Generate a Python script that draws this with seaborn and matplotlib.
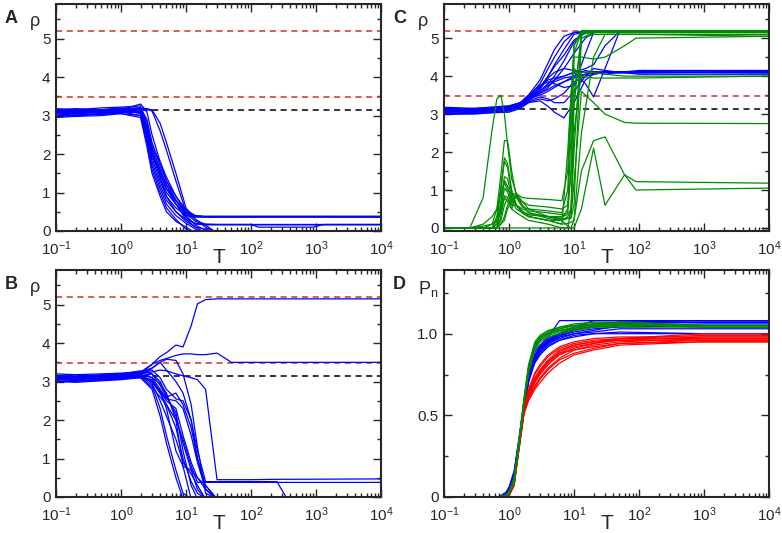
import matplotlib
matplotlib.use("Agg")
import matplotlib.pyplot as plt
from matplotlib.ticker import LogLocator, MultipleLocator, FixedLocator, NullFormatter
import seaborn as sns
import pandas as pd

# reference levels (dashed lines)
RED_LEVELS = [5.2, 3.47]
BLACK_LEVEL = 3.14

# ---- panel A: rho vs T, blue runs ----
T_A = [0.1, 0.2, 0.5, 1, 2, 2.5, 3, 4, 5, 7, 10, 14, 20, 30, 100, 130, 900, 1300, 10000]
rho_A = [
    [3.15, 3.18, 3.15, 3.18, 3.20, 2.90, 2.30, 1.70, 1.30, 0.90, 0.55, 0.40, 0.38, 0.38, 0.38, 0.38, 0.38, 0.38, 0.38],
    [3.05, 3.08, 3.10, 3.12, 3.15, 2.70, 2.10, 1.50, 1.10, 0.80, 0.50, 0.39, 0.37, 0.37, 0.37, 0.37, 0.37, 0.37, 0.37],
    [3.00, 2.98, 3.05, 3.08, 3.10, 2.60, 1.90, 1.30, 0.90, 0.60, 0.40, 0.36, 0.36, 0.36, 0.36, 0.36, 0.36, 0.36, 0.36],
    [3.12, 3.10, 3.12, 3.15, 3.30, 3.10, 2.50, 1.80, 1.30, 0.80, 0.45, 0.25, 0.18, 0.17, 0.17, 0.17, 0.17, 0.17, 0.17],
    [3.08, 3.05, 3.10, 3.12, 3.10, 2.50, 1.80, 1.20, 0.80, 0.50, 0.30, 0.20, 0.17, 0.17, 0.17, 0.10, 0.10, 0.17, 0.17],
    [3.10, 3.12, 3.10, 3.15, 3.05, 2.40, 1.70, 1.10, 0.70, 0.40, 0.20, 0.05, -0.05],
    [3.05, 3.00, 3.05, 3.10, 3.00, 2.30, 1.60, 1.00, 0.60, 0.30, 0.05, -0.05],
    [2.95, 2.98, 3.00, 3.05, 2.95, 2.20, 1.50, 0.90, 0.50, 0.25, 0.10, -0.05],
    [3.15, 3.12, 3.15, 3.20, 3.15, 2.80, 2.20, 1.60, 1.20, 0.80, 0.40, 0.15, 0.02, -0.05],
    [3.12, 3.14, 3.15, 3.18, 3.20, 3.18, 3.15, 2.80, 2.30, 1.50, 0.60, 0.30, 0.10, -0.05],
    [3.10, 3.12, 3.15, 3.15, 3.18, 3.16, 3.12, 2.60, 2.10, 1.30, 0.50, 0.38, 0.37, 0.37, 0.37, 0.37, 0.37, 0.37, 0.37],
    [3.00, 3.02, 3.05, 3.10, 3.08, 2.60, 2.20, 1.80, 1.40, 0.90, 0.50, 0.30, 0.15, -0.05],
    [3.18, 3.15, 3.20, 3.22, 3.25, 2.80, 2.00, 1.40, 1.00, 0.70, 0.45, 0.38, 0.38, 0.38, 0.38, 0.38, 0.38, 0.38, 0.38],
    [3.05, 3.08, 3.10, 3.05, 3.00, 2.50, 2.00, 1.60, 1.20, 0.70, 0.30, 0.10, -0.05],
    [3.10, 3.05, 3.08, 3.12, 3.10, 2.70, 2.10, 1.40, 0.90, 0.50, 0.25, 0.10, 0.05, -0.05],
    [3.00, 3.05, 3.02, 3.08, 3.12, 2.60, 2.00, 1.50, 1.10, 0.70, 0.35, 0.18, 0.16, 0.16, 0.16, 0.16, 0.16, 0.16, 0.16],
]

# ---- panel B ----
T_B = [0.1, 0.2, 0.5, 1, 2, 3, 4, 5, 7, 9, 12, 15, 20, 30, 50, 100, 250, 360, 10000]
rho_B = [
    [3.10, 3.12, 3.10, 3.15, 3.20, 3.45, 3.65, 3.75, 3.95, 3.90, 4.45, 5.02, 5.13, 5.15, 5.15, 5.15, 5.15, 5.15, 5.15],
    [3.05, 3.08, 3.12, 3.15, 3.25, 3.45, 3.55, 3.60, 3.68, 3.72, 3.72, 3.70, 3.70, 3.74, 3.50, 3.50, 3.50, 3.50, 3.50],
    [3.10, 3.12, 3.15, 3.18, 3.20, 3.25, 3.30, 3.28, 3.20, 3.15, 3.10, 3.05, 2.80, 0.45, 0.45, 0.45, 0.46, 0.46, 0.47],
    [3.00, 3.02, 3.05, 3.10, 3.15, 2.90, 2.30, 1.60, 0.70, 0.10, -0.05],
    [3.12, 3.10, 3.15, 3.12, 3.10, 2.80, 2.10, 1.40, 0.50, -0.05],
    [3.15, 3.18, 3.20, 3.22, 3.25, 3.10, 2.80, 2.55, 2.50, 2.30, 1.60, 0.90, 0.20, -0.05],
    [3.08, 3.05, 3.08, 3.10, 3.20, 3.30, 3.10, 2.80, 2.55, 2.50, 2.00, 1.20, 0.40, 0.40, 0.40, 0.40, 0.40, -0.05],
    [3.05, 3.10, 3.12, 3.08, 3.15, 3.00, 2.70, 2.40, 2.00, 1.50, 0.80, 0.38, 0.38, 0.38, 0.38, 0.38, 0.38, 0.38, 0.38],
    [3.20, 3.18, 3.15, 3.20, 3.25, 3.35, 3.50, 3.30, 3.00, 2.70, 2.00, 1.00, 0.30, -0.05],
    [3.10, 3.08, 3.12, 3.15, 3.10, 2.85, 2.60, 2.40, 1.80, 1.00, 0.40, 0.10, -0.05],
    [3.00, 2.98, 3.02, 3.05, 3.10, 3.00, 2.75, 2.50, 2.30, 1.60, 0.90, 0.50, 0.20, -0.05],
    [3.15, 3.12, 3.18, 3.20, 3.28, 3.20, 2.90, 2.60, 2.20, 1.20, 0.30, -0.05],
    [3.05, 3.08, 3.10, 3.12, 3.18, 3.35, 3.50, 3.58, 3.55, 3.20, 2.40, 1.30, 0.10, -0.05],
    [3.10, 3.12, 3.08, 3.15, 3.22, 2.95, 2.50, 2.10, 1.50, 0.90, 0.60, 0.30, -0.05],
    [3.12, 3.15, 3.15, 3.18, 3.20, 3.00, 2.70, 2.60, 2.70, 2.40, 1.80, 1.00, 0.20, -0.05],
    [3.00, 3.03, 3.05, 3.08, 3.12, 3.05, 2.75, 2.30, 1.20, 0.80, 0.70, 0.50, 0.30, -0.05],
    [3.08, 3.10, 3.06, 3.12, 3.18, 3.10, 2.95, 2.70, 2.00, 0.80, -0.05],
    [3.02, 3.00, 3.04, 3.06, 3.14, 3.20, 3.00, 2.65, 2.10, 1.40, 0.70, 0.20, -0.05],
]

# ---- panel C: blue runs ----
T_C_blue = [0.1, 0.3, 1, 1.5, 2, 3, 4, 5, 7, 10, 15, 20, 30, 50, 100, 10000]
rho_C_blue = [
    [3.05, 3.08, 3.15, 3.25, 3.45, 3.80, 4.20, 4.50, 4.90, 5.15, 5.17, 5.17, 5.17, 5.17, 5.17, 5.17],
    [3.10, 3.12, 3.20, 3.30, 3.50, 3.90, 4.35, 4.70, 5.05, 5.15, 5.17, 5.17, 5.17, 5.17, 5.17, 5.17],
    [3.00, 3.02, 3.10, 3.20, 3.40, 3.70, 4.00, 4.30, 4.70, 5.10, 5.17, 5.17, 5.17, 5.17, 5.17, 5.17],
    [3.15, 3.10, 3.18, 3.28, 3.45, 3.60, 3.80, 4.00, 4.40, 4.90, 5.15, 5.17, 5.17, 5.17, 5.17, 5.17],
    [3.08, 3.05, 3.12, 3.22, 3.40, 3.55, 3.70, 3.90, 4.20, 4.60, 5.00, 5.15, 5.17, 5.17, 5.17, 5.17],
    [3.05, 3.08, 3.15, 3.22, 3.35, 3.60, 3.75, 3.85, 3.95, 4.00, 4.05, 4.10, 4.12, 4.10, 4.12, 4.10],
    [3.12, 3.10, 3.18, 3.25, 3.40, 3.50, 3.60, 3.70, 3.85, 3.95, 4.05, 4.08, 4.10, 4.12, 4.08, 4.12],
    [3.00, 3.02, 3.05, 3.15, 3.30, 3.35, 3.20, 3.05, 2.90, 3.30, 3.90, 4.05, 4.10, 4.10, 4.10, 4.08],
    [3.10, 3.12, 3.15, 3.20, 3.35, 3.45, 3.40, 3.30, 3.30, 3.60, 4.00, 4.20, 4.15, 4.10, 4.05, 4.05],
    [3.05, 3.08, 3.15, 3.25, 3.40, 3.60, 3.80, 3.90, 4.00, 4.10, 3.80, 3.45, 4.20, 5.17, 5.17, 5.17],
    [3.15, 3.12, 3.20, 3.30, 3.50, 3.75, 3.90, 3.95, 4.00, 4.10, 4.20, 4.30, 4.80, 5.17, 5.17, 5.17],
    [3.02, 3.05, 3.12, 3.20, 3.38, 3.55, 3.65, 3.75, 3.85, 4.00, 4.15, 4.10, 4.05, 4.10, 4.15, 4.15],
    [3.08, 3.10, 3.16, 3.26, 3.42, 3.65, 3.95, 4.10, 4.20, 4.15, 4.10, 4.12, 4.10, 4.08, 4.10, 4.10],
    [3.12, 3.15, 3.20, 3.30, 3.50, 3.75, 3.85, 3.80, 3.70, 3.75, 4.60, 5.15, 5.17, 5.17, 5.17, 5.17],
    [3.00, 3.00, 3.08, 3.18, 3.32, 3.40, 3.35, 3.40, 3.55, 3.85, 4.00, 4.05, 4.10, 4.12, 4.10, 4.12],
    [3.18, 3.15, 3.22, 3.30, 3.45, 3.70, 4.00, 4.25, 4.55, 4.95, 5.15, 5.17, 5.17, 5.17, 5.17, 5.17],
]

# ---- panel C: green runs ----
T_C_green = [0.1, 0.25, 0.4, 0.55, 0.65, 0.75, 0.85, 0.95, 1.1, 1.3, 1.6, 2, 4, 6.5, 8, 9, 10, 13, 20, 30, 60, 90, 10000]
rho_C_green = [
    [0, 0, 0.80, 2.60, 3.40, 3.50, 3.00, 2.20, 1.30, 0.90, 0.80, 0.78, 0.75, 0.72, 1.50, 3.50, 4.80, 5.20, 5.20, 5.20, 5.20, 5.20, 5.20],
    [0, 0, 0, 0.10, 0.50, 1.40, 2.30, 2.30, 1.50, 0.80, 0.55, 0.50, 0.45, 0.40, 1.00, 3.00, 4.60, 5.18, 5.18, 5.18, 5.18, 5.18, 5.18],
    [0, 0, 0, 0, 0.30, 1.10, 1.85, 1.70, 1.00, 0.60, 0.40, 0.35, 0.30, 0.30, 0.35, 0.50, 2.50, 4.10, 4.10, 4.05, 4.00, 4.00, 4.00],
    [0, 0, 0, 0, 0.20, 1.00, 1.75, 1.60, 0.90, 0.90, 0.60, 0.40, 0.25, 0.20, 0.30, 0.40, 3.20, 5.15, 5.15, 5.15, 5.15, 5.15, 5.15],
    [0, 0, 0, 0, 0.10, 0.70, 1.35, 1.30, 0.80, 0.60, 0.40, 0.30, 0.20, 0.20, 0.25, 0.30, 1.20, 3.60, 3.30, 3.00, 2.78, 2.76, 2.75],
    [0, 0, 0, 0, 0.10, 0.60, 1.25, 1.10, 0.70, 0.85, 0.60, 0.40, 0.30, 0.25, 0.25, 0.25, 0.60, 5.00, 5.15, 5.15, 5.15, 5.15, 5.15],
    [0, 0, 0, 0, 0, 0.50, 1.05, 0.95, 0.60, 0.60, 0.40, 0.30, 0.20, 0.10, 0.12, 0.15, 0.20, 1.50, 2.30, 2.40, 1.40, 1.22, 1.18],
    [0, 0, 0, 0, 0, 0.30, 0.85, 0.80, 0.50, 0.90, 0.70, 0.50, 0.30, 0.20, 0.05, 0, 0, 0.50, 2.10, 0.60, 1.40, 1.00, 1.05],
    [0, 0, 0, 0, 0, 0, 0, 0, 0, 0, 0, 0, 0, 0, 0, 0.50, 2.00, 5.10, 5.15, 5.15, 5.15, 5.15, 5.15],
    [0, 0, 0, 0, 0, 0.10, 0.30, 0.60, 0.80, 0.60, 0.50, 0.45, 0.40, 0.35, 0.40, 1.50, 4.50, 4.50, 4.45, 4.50, 4.80, 5.00, 5.05],
    [0, 0, 0, 0, 0, 0.10, 0.20, 0.50, 0.70, 0.50, 0.40, 0.30, 0.20, 0.10, 2.00, 3.50, 4.20, 4.00, 3.95, 3.95, 3.95, 3.95, 4.00],
    [0, 0, 0.10, 0.30, 0.50, 0.90, 1.20, 1.00, 0.90, 0.60, 0.45, 0.35, 0.30, 0.25, 0.50, 2.50, 4.80, 5.20, 5.20, 5.20, 5.20, 5.20, 5.20],
    [0, 0, 0, 0, 0, 0.20, 0.60, 0.80, 0.90, 0.80, 0.70, 0.60, 0.55, 0.50, 0.60, 1.50, 3.50, 5.00, 5.10, 5.10, 5.10, 5.10, 5.05],
    [0, 0, 0.05, 0.10, 0.20, 0.40, 0.80, 0.70, 0.50, 0.40, 0.30, 0.20, 0.10, 0, 0, 0, 0.20, 2.50, 4.50, 5.10, 5.10, 5.10, 5.10],
]

# ---- panel D: P_n vs T ----
T_D = [0.7, 0.9, 1.0, 1.2, 1.4, 1.7, 2.0, 2.5, 3, 4, 6, 10, 20, 50, 1000, 10000]
Pn_D_blue = [
    [0, 0.01, 0.03, 0.12, 0.30, 0.55, 0.72, 0.85, 0.90, 0.94, 0.97, 1.00, 1.02, 1.05, 1.06, 1.06],
    [0, 0.02, 0.05, 0.15, 0.33, 0.57, 0.74, 0.87, 0.92, 0.96, 1.00, 1.02, 1.04, 1.07, 1.08, 1.08],
    [0, 0.01, 0.02, 0.10, 0.28, 0.53, 0.70, 0.83, 0.88, 0.93, 0.96, 0.99, 1.00, 1.01, 1.00, 1.00],
    [0, 0.03, 0.06, 0.16, 0.34, 0.58, 0.76, 0.89, 0.93, 0.98, 1.08, 1.08, 1.08, 1.08, 1.08, 1.08],
    [0, 0.01, 0.03, 0.11, 0.29, 0.54, 0.71, 0.84, 0.89, 0.94, 0.98, 1.02, 1.05, 1.06, 1.07, 1.07],
    [0, 0.02, 0.04, 0.13, 0.31, 0.56, 0.73, 0.86, 0.91, 0.95, 0.98, 1.00, 1.01, 1.03, 1.03, 1.03],
    [0, 0.01, 0.02, 0.11, 0.29, 0.55, 0.72, 0.82, 0.87, 0.92, 0.96, 0.98, 1.00, 1.00, 1.00, 1.00],
    [0, 0.02, 0.05, 0.14, 0.32, 0.56, 0.74, 0.86, 0.91, 0.96, 0.99, 1.03, 1.06, 1.07, 1.07, 1.07],
    [0, 0.01, 0.03, 0.12, 0.30, 0.55, 0.72, 0.85, 0.90, 0.95, 0.99, 1.01, 1.03, 1.04, 1.05, 1.05],
    [0, 0.02, 0.04, 0.13, 0.31, 0.56, 0.73, 0.87, 0.92, 0.97, 1.00, 1.04, 1.08, 1.08, 1.08, 1.08],
]
Pn_D_red = [
    [0, 0, 0.01, 0.08, 0.28, 0.52, 0.60, 0.68, 0.73, 0.79, 0.85, 0.90, 0.93, 0.95, 0.97, 0.97],
    [0, 0, 0.02, 0.09, 0.30, 0.54, 0.63, 0.72, 0.77, 0.83, 0.89, 0.93, 0.95, 0.96, 0.98, 0.98],
    [0, 0, 0.01, 0.07, 0.27, 0.51, 0.59, 0.66, 0.70, 0.76, 0.82, 0.87, 0.90, 0.93, 0.95, 0.95],
    [0, 0, 0.02, 0.10, 0.31, 0.55, 0.65, 0.75, 0.80, 0.86, 0.91, 0.94, 0.96, 0.97, 0.99, 0.99],
    [0, 0, 0.01, 0.08, 0.29, 0.53, 0.61, 0.70, 0.75, 0.81, 0.87, 0.91, 0.94, 0.96, 0.96, 0.96],
    [0, 0, 0.01, 0.08, 0.28, 0.52, 0.62, 0.71, 0.76, 0.82, 0.88, 0.92, 0.94, 0.97, 1.00, 1.00],
    [0, 0, 0.02, 0.09, 0.30, 0.54, 0.64, 0.73, 0.78, 0.84, 0.90, 0.93, 0.95, 0.97, 0.97, 0.97],
    [0, 0, 0.01, 0.07, 0.27, 0.51, 0.60, 0.67, 0.72, 0.78, 0.84, 0.88, 0.91, 0.94, 0.96, 0.96],
    [0, 0, 0.02, 0.10, 0.31, 0.55, 0.66, 0.76, 0.81, 0.87, 0.92, 0.95, 0.97, 0.98, 0.98, 0.98],
    [0, 0, 0.01, 0.08, 0.29, 0.53, 0.62, 0.72, 0.77, 0.83, 0.88, 0.90, 0.92, 0.94, 0.95, 0.95],
]
Pn_D_green = [
    [0, 0.005, 0.02, 0.10, 0.30, 0.58, 0.78, 0.92, 0.97, 1.00, 1.02, 1.04, 1.05, 1.05, 1.05, 1.05],
    [0, 0.01, 0.03, 0.12, 0.32, 0.60, 0.80, 0.94, 0.98, 1.01, 1.03, 1.05, 1.06, 1.07, 1.05, 1.05],
    [0, 0.005, 0.02, 0.09, 0.29, 0.57, 0.77, 0.91, 0.96, 0.99, 1.01, 1.03, 1.04, 1.04, 1.04, 1.04],
    [0, 0.01, 0.03, 0.11, 0.31, 0.59, 0.79, 0.93, 0.98, 1.01, 1.04, 1.05, 1.06, 1.06, 1.04, 1.04],
    [0, 0.005, 0.02, 0.10, 0.30, 0.58, 0.78, 0.92, 0.97, 1.00, 1.02, 1.03, 1.05, 1.07, 1.05, 1.05],
    [0, 0.01, 0.02, 0.10, 0.30, 0.59, 0.79, 0.93, 0.97, 1.00, 1.03, 1.05, 1.05, 1.06, 1.04, 1.04],
    [0, 0.005, 0.02, 0.09, 0.29, 0.57, 0.76, 0.90, 0.95, 0.98, 1.00, 1.02, 1.04, 1.05, 1.05, 1.05],
    [0, 0.01, 0.03, 0.11, 0.31, 0.60, 0.81, 0.95, 0.99, 1.02, 1.04, 1.06, 1.07, 1.07, 1.05, 1.05],
]

BLUE = "#0000ff"
GREEN = "#008b00"
RED = "#ff0000"
DASH_RED = "#d03030"

sns.set_style("ticks")
plt.rcParams["font.family"] = ["Liberation Sans", "DejaVu Sans"]
plt.rcParams["mathtext.fontset"] = "custom"
plt.rcParams["mathtext.rm"] = "Liberation Sans"
plt.rcParams["mathtext.it"] = "Liberation Sans:italic"


def runs_frame(grid, curves):
    # curves shorter than the grid just stop (they ran into zero)
    rows = []
    for i, c in enumerate(curves):
        for t, v in zip(grid, c):
            rows.append((i, t, v))
    return pd.DataFrame(rows, columns=["run", "T", "val"])


def draw_runs(ax, grid, curves, color):
    df = runs_frame(grid, curves)
    sns.lineplot(data=df, x="T", y="val", units="run", estimator=None,
                 sort=False, color=color, lw=0.9, ax=ax, legend=False)


def style_axis(ax, ylim, yticks, ylabels, yminor):
    ax.set_xscale("log")
    ax.set_xlim(0.1, 1e4)
    ax.set_ylim(*ylim)
    ax.xaxis.set_major_locator(LogLocator(base=10, numticks=10))
    ax.xaxis.set_minor_locator(LogLocator(base=10, subs=range(2, 10), numticks=20))
    ax.xaxis.set_minor_formatter(NullFormatter())
    ax.yaxis.set_major_locator(FixedLocator(yticks))
    ax.set_yticklabels(ylabels)
    ax.yaxis.set_minor_locator(MultipleLocator(yminor))
    ax.tick_params(which="both", direction="in", top=True, right=True,
                   labelsize=11, width=1.0)
    ax.tick_params(which="major", length=6)
    ax.tick_params(axis="x", which="major", pad=6)
    ax.tick_params(axis="y", which="major", pad=4)
    ax.tick_params(which="minor", length=3)
    for s in ax.spines.values():
        s.set_linewidth(1.5)
    ax.set_ylabel("")
    ax.set_xlabel("T", fontsize=15, labelpad=-7)


def add_levels(ax):
    for lv in RED_LEVELS:
        ax.axhline(lv, color=DASH_RED, lw=1.1, ls=(0, (4, 3)), zorder=1)
    ax.axhline(BLACK_LEVEL, color="black", lw=1.1, ls=(0, (4, 3)), zorder=1)


W, H = 782, 533
fig = plt.figure(figsize=(W / 100, H / 100), dpi=100)


def box(l, t, r, b):
    return [l / W, 1 - b / H, (r - l) / W, (b - t) / H]


axA = fig.add_axes(box(56, 4, 381, 231))
axC = fig.add_axes(box(444, 4, 769, 231))
axB = fig.add_axes(box(56, 270, 381, 497))
axD = fig.add_axes(box(444, 270, 769, 497))

rho_ticks = [0, 1, 2, 3, 4, 5]
rho_labels = ["0", "1", "2", "3", "4", "5"]

add_levels(axA)
draw_runs(axA, T_A, rho_A, BLUE)
style_axis(axA, (0, 5.9), rho_ticks, rho_labels, 0.5)

add_levels(axB)
draw_runs(axB, T_B, rho_B, BLUE)
style_axis(axB, (0, 5.9), rho_ticks, rho_labels, 0.5)

add_levels(axC)
draw_runs(axC, T_C_blue, rho_C_blue, BLUE)
draw_runs(axC, T_C_green, rho_C_green, GREEN)
style_axis(axC, (-0.08, 5.9), rho_ticks, rho_labels, 0.5)

draw_runs(axD, T_D, Pn_D_blue, BLUE)
draw_runs(axD, T_D, Pn_D_red, RED)
draw_runs(axD, T_D, Pn_D_green, GREEN)
style_axis(axD, (0, 1.39), [0, 0.5, 1.0], ["0", "0.5", "1.0"], 0.25)

# panel letters and y labels
for letter, ylab, x0, y0 in [("A", "ρ", 5, 10), ("C", "ρ", 393, 10),
                             ("B", "ρ", 5, 276), ("D", r"P$_\mathregular{n}$", 393, 276)]:
    fig.text(x0 / W, 1 - y0 / H, letter, fontsize=13, fontweight="bold", va="top", ha="left")
    fig.text((x0 + 25) / W, 1 - (y0 + 3) / H, ylab, fontsize=13, va="top", ha="left")

fig.savefig("out.png", dpi=100)
